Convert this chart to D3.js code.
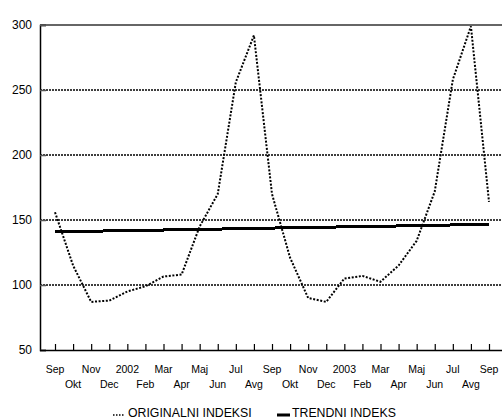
<!DOCTYPE html>
<html>
<head>
<meta charset="utf-8">
<script src="https://cdn.jsdelivr.net/npm/d3@7"></script>
<style>
html,body{margin:0;padding:0;background:#fff;}
svg{display:block;}
text{font-family:"Liberation Sans",Arial,sans-serif;fill:#000;}
</style>
</head>
<body>
<svg id="c" width="502" height="419"></svg>
<script>
const months = ["Sep","Okt","Nov","Dec","2002","Feb","Mar","Apr","Maj","Jun","Jul","Avg",
                "Sep","Okt","Nov","Dec","2003","Feb","Mar","Apr","Maj","Jun","Jul","Avg","Sep"];
const original = [156,115,87,88,95,99,106.5,108,145,170,256,292,
                  170,121,90,87,105,107,102.5,115,134,172,258,299,164];
const trend = [140.9,141.1,141.4,141.6,141.8,142.1,142.3,142.6,142.8,143.0,143.3,143.5,
               143.8,144.0,144.2,144.5,144.7,145.0,145.2,145.4,145.7,145.9,146.2,146.4,146.6];
const yTicks = [50,100,150,200,250,300];
const legendLabels = ["ORIGINALNI INDEKSI","TRENDNI INDEKS"];

(function(){
const svg = d3.select("#c");
const pL = 40, pR = 504, pT = 25, pB = 350;

const x = d3.scaleLinear().domain([0, months.length - 1]).range([55, 489]);
const y = d3.scaleLinear().domain([50, 300]).range([pB, pT]);

// gridlines
svg.append("g").selectAll("line")
  .data(yTicks.filter(d => d > 50 && d < 300))
  .join("line")
  .attr("x1", pL).attr("x2", pR)
  .attr("y1", d => y(d)).attr("y2", d => y(d))
  .attr("stroke", "#000").attr("stroke-width", 1.5)
  .attr("stroke-dasharray", "2,1");

// top border
svg.append("line").attr("x1", pL).attr("x2", pR)
  .attr("y1", y(300)).attr("y2", y(300))
  .attr("stroke", "#333").attr("stroke-width", 1.5);

// y axis
const yAxis = d3.axisLeft(y).tickValues(yTicks).tickSize(-6).tickPadding(8);
const gy = svg.append("g").attr("transform", `translate(${pL},0)`).call(yAxis);
gy.select(".domain").attr("stroke", "#000").attr("stroke-width", 1.5);
gy.selectAll(".tick line").attr("stroke", "#555").attr("stroke-width", 1.5);
gy.selectAll("text").attr("font-size", "12px").attr("font-family", "Liberation Sans, Arial, sans-serif").attr("fill", "#000");

// x axis
const xAxis = d3.axisBottom(x).tickValues(d3.range(months.length)).tickSize(-6).tickFormat("");
const gx = svg.append("g").attr("transform", `translate(0,${pB})`).call(xAxis);
gx.select(".domain").attr("d", `M${pL},0.5H${pR}`).attr("stroke", "#000").attr("stroke-width", 1.5);
gx.selectAll(".tick line").attr("stroke", "#000").attr("stroke-width", 1.2);

svg.append("g").selectAll("text")
  .data(months)
  .join("text")
  .attr("x", (d, i) => x(i))
  .attr("y", (d, i) => i % 2 === 0 ? 373 : 388)
  .attr("text-anchor", "middle")
  .attr("font-size", "10.5px")
  .text(d => d);

// trend line
const line = d3.line().x((d, i) => x(i)).y(d => y(d));
svg.append("path").datum(trend)
  .attr("d", line)
  .attr("fill", "none").attr("stroke", "#000").attr("stroke-width", 3)
  .attr("shape-rendering", "crispEdges");

// original line
svg.append("path").datum(original)
  .attr("d", line)
  .attr("fill", "none").attr("stroke", "#000").attr("stroke-width", 2)
  .attr("stroke-dasharray", "2,1.6");

// legend
const lg = svg.append("g");
lg.append("line").attr("x1", 113).attr("x2", 125).attr("y1", 415).attr("y2", 415)
  .attr("stroke", "#000").attr("stroke-width", 1.5).attr("stroke-dasharray", "1.5,1.5");
lg.append("text").attr("x", 128).attr("y", 417).attr("font-size", "12.3px").text(legendLabels[0]);
lg.append("rect").attr("x", 277).attr("y", 413.5).attr("width", 13).attr("height", 3).attr("fill", "#000");
lg.append("text").attr("x", 292).attr("y", 417).attr("font-size", "12.3px").text(legendLabels[1]);
})();
</script>
</body>
</html>
